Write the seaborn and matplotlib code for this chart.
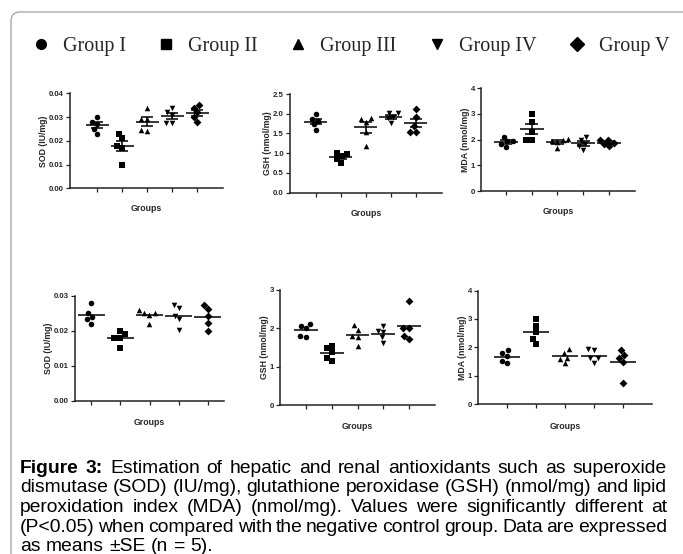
import numpy as np
import pandas as pd
import matplotlib
matplotlib.use("Agg")
import matplotlib.pyplot as plt
import seaborn as sns
from matplotlib.lines import Line2D
from matplotlib.patches import FancyBboxPatch

# ---------------- data ----------------
groups = ["Group I", "Group II", "Group III", "Group IV", "Group V"]
markers = ["o", "s", "^", "v", "D"]

top_sod = [[0.030, 0.028, 0.027, 0.025, 0.023],
           [0.023, 0.021, 0.018, 0.017, 0.010],
           [0.034, 0.029, 0.029, 0.024, 0.0245],
           [0.034, 0.032, 0.031, 0.0275, 0.0275],
           [0.035, 0.034, 0.032, 0.030, 0.028]]
top_gsh = [[2.00, 1.86, 1.82, 1.73, 1.60],
           [1.00, 0.98, 0.92, 0.85, 0.75],
           [1.88, 1.87, 1.80, 1.55, 1.18],
           [2.02, 2.02, 1.93, 1.88, 1.76],
           [2.12, 1.93, 1.68, 1.55, 1.55]]
top_mda = [[2.10, 1.95, 1.93, 1.85, 1.72],
           [3.00, 2.70, 2.30, 2.00, 2.00],
           [2.03, 2.00, 1.95, 1.90, 1.68],
           [2.10, 2.00, 1.82, 1.75, 1.60],
           [2.00, 1.98, 1.88, 1.83, 1.75]]
bot_sod = [[0.028, 0.025, 0.024, 0.0232, 0.022],
           [0.020, 0.019, 0.018, 0.018, 0.015],
           [0.026, 0.025, 0.025, 0.0245, 0.022],
           [0.0273, 0.0264, 0.0243, 0.0232, 0.0202],
           [0.0273, 0.0262, 0.0242, 0.0221, 0.020]]
bot_gsh = [[2.07, 2.11, 2.00, 1.77, 1.80],
           [1.48, 1.54, 1.39, 1.23, 1.16],
           [2.08, 1.96, 1.80, 1.77, 1.55],
           [1.94, 1.91, 2.06, 1.77, 1.63],
           [2.72, 2.00, 2.00, 1.72, 1.81]]
bot_mda = [[1.82, 1.90, 1.70, 1.53, 1.44],
           [3.00, 2.76, 2.55, 2.29, 2.12],
           [1.93, 1.81, 1.64, 1.58, 1.46],
           [1.93, 1.90, 1.61, 1.61, 1.46],
           [1.90, 1.73, 1.61, 1.47, 0.76]]

sod_ticks_top = [0.00, 0.01, 0.02, 0.03, 0.04]
gsh_ticks_top = [0.0, 0.5, 1.0, 1.5, 2.0, 2.5]
mda_ticks = [0, 1, 2, 3, 4]
sod_ticks_bot = [0.00, 0.01, 0.02, 0.03]
gsh_ticks_bot = [0, 1, 2, 3]

caption_lines = [
    "Figure 3: Estimation of hepatic and renal antioxidants such as superoxide",
    "dismutase (SOD) (IU/mg), glutathione peroxidase (GSH) (nmol/mg) and lipid",
    "peroxidation index (MDA) (nmol/mg). Values were significantly different at",
    "(P<0.05) when compared with the negative control group. Data are expressed",
    "as means \u00b1SE (n = 5).",
]

# ---------------- style ----------------
sns.set_style("ticks")
plt.rcParams["font.family"] = ["Liberation Sans", "DejaVu Sans"]

W, H = 683, 554
fig = plt.figure(figsize=(W / 100, H / 100), dpi=100)
fig.patch.set_facecolor("white")

# rounded frame
frame = FancyBboxPatch((11, -30), 720, H - 12 + 30,
                       boxstyle="round,pad=0,rounding_size=9",
                       transform=None, facecolor="none",
                       edgecolor="#a8a8a8", linewidth=1.0)
fig.add_artist(frame)

# panel specs: data, ylabel, ticks, fmt, [left, right, ytop, ybottom] px, xlim, se, xlabelpad
panels = [
    (top_sod, "SOD (IU/mg)", sod_ticks_top, "{:.2f}", [70, 223, 93.3, 188.3], (-1.08, 5.04), True, 6.5),
    (top_gsh, "GSH (nmol/mg)", gsh_ticks_top, "{:.1f}", [290, 441.7, 94, 192.7], (-1.04, 5.03), True, 7),
    (top_mda, "MDA (nmol/mg)", mda_ticks, "{:d}", [481, 635, 88.3, 191], (-0.97, 5.01), True, 7),
    (bot_sod, "SOD (IU/mg)", sod_ticks_bot, "{:.2f}", [75, 224, 295.7, 400.7], (-0.55, 4.55), False, 8),
    (bot_gsh, "GSH (nmol/mg)", gsh_ticks_bot, "{:d}", [280, 435, 290, 405], (-1.01, 5.01), False, 8),
    (bot_mda, "MDA (nmol/mg)", mda_ticks, "{:d}", [478, 652, 290.5, 404.3], (-1.0, 5.0), False, 8.5),
]

for data, ylab, ticks, fmt, box, xlim, show_se, xpad in panels:
    l, r, t, b = box
    ax = fig.add_axes([l / W, 1 - b / H, (r - l) / W, (b - t) / H])
    ax.set_facecolor("none")
    df = pd.DataFrame({"group": np.repeat(groups, [len(v) for v in data]),
                       "value": np.concatenate(data)})
    for g, m in zip(groups, markers):
        sns.swarmplot(data=df[df["group"] == g], x="group", y="value", order=groups,
                      marker=m, color="black", size=4.0, linewidth=0, ax=ax, zorder=3)
    for i, vals in enumerate(data):
        vals = np.asarray(vals)
        mu = vals.mean()
        ax.hlines(mu, i - 0.46, i + 0.46, color="black", lw=1.1, zorder=4)
        if show_se:
            se = vals.std(ddof=1) / np.sqrt(len(vals))
            ax.vlines(i, mu - se, mu + se, color="black", lw=1.1, zorder=4)
            ax.hlines([mu - se, mu + se], i - 0.25, i + 0.25, color="black", lw=1.1, zorder=4)
    ax.set_xlim(*xlim)
    ax.set_ylim(ticks[0], ticks[-1])
    ax.set_yticks(ticks)
    ax.set_yticklabels([fmt.format(v) for v in ticks], fontsize=5.6, fontweight="bold")
    ax.set_xticks(range(len(groups)))
    ax.set_xticklabels([""] * len(groups))
    ax.tick_params(axis="both", length=3, width=0.9, color="#222222", pad=1.5)
    ax.set_xlabel("Groups", fontsize=6.3, fontweight="bold", labelpad=xpad)
    ax.set_ylabel(ylab, fontsize=6.3, fontweight="bold", labelpad=0.5)
    for s in ["top", "right"]:
        ax.spines[s].set_visible(False)
    for s in ["left", "bottom"]:
        ax.spines[s].set_linewidth(1.1)
        ax.spines[s].set_color("#222222")

# legend
handles = [Line2D([], [], marker=m, color="black", linestyle="none", markersize=7)
           for m in markers]
fig.legend(handles, groups, loc="center", bbox_to_anchor=(352 / W, 1 - 46 / H),
           ncol=5, frameon=False, handlelength=0.6, handletextpad=0.8,
           columnspacing=1.7, borderaxespad=0,
           prop={"family": "Liberation Serif", "size": 14.5})

# justified caption
renderer = fig.canvas.get_renderer()
x0, x1 = 20, 667
fs = 13.9
base_y = [473, 492.5, 512, 531.5, 551]
for li, line in enumerate(caption_lines):
    words = line.split(" ")
    objs = []
    for wi, w in enumerate(words):
        bold = (li == 0 and wi < 2)
        txt = fig.text(0, 0, w, fontsize=fs, fontweight="bold" if bold else "normal",
                       va="baseline", ha="left", transform=None, color="black")
        objs.append(txt)
    widths = [o.get_window_extent(renderer).width for o in objs]
    last = li == len(caption_lines) - 1
    if last:
        sp = fig.text(0, 0, "a a", fontsize=fs, transform=None)
        sp2 = fig.text(0, 0, "aa", fontsize=fs, transform=None)
        gap = sp.get_window_extent(renderer).width - sp2.get_window_extent(renderer).width
        sp.remove(); sp2.remove()
    else:
        gap = (x1 - x0 - sum(widths)) / (len(words) - 1)
    x = x0
    for o, w in zip(objs, widths):
        o.set_position((x, H - base_y[li]))
        x += w + gap

fig.savefig("out.png", dpi=100, facecolor="white")
